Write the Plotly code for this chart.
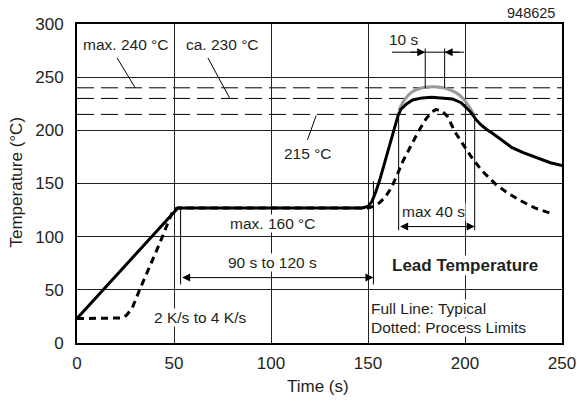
import plotly.graph_objects as go

# ---------------- data ----------------
full_x = [0, 52, 147, 150, 152, 154, 156, 158, 160, 162, 164, 165.5, 167, 170, 173, 178, 183, 188, 193.5, 198, 200.5, 202.5, 204, 205.5, 208, 211, 214, 219, 224, 230, 237, 244, 250]
full_y = [23, 127, 127, 128.5, 133, 142, 153, 166, 180, 193, 206, 214, 220, 225, 228.5, 230.5, 231, 230.5, 229.5, 226, 222, 218, 214.5, 210.5, 205.5, 201, 197.5, 190.5, 184, 179, 174, 169.5, 167]

dotted_x = [0, 23, 25.5, 28.5, 32.5, 37.7, 42.8, 46.2, 49.7, 52, 150, 153, 156, 159, 162, 165, 168, 172, 176, 180, 183, 185, 188, 191, 195, 200, 204, 209, 216, 222, 229, 236, 245]
dotted_y = [23, 23.5, 26, 33, 51, 72.5, 94.5, 110, 125.5, 127, 127, 128.5, 132, 137.5, 146, 158, 171, 185, 199, 211, 217.5, 219.5, 218.5, 213, 198, 184, 173, 161.5, 149, 141, 133.5, 127, 121.5]

peak_x = [166, 168.7, 173, 178, 183, 189, 195.3, 199, 202, 204.7]
peak_y = [219, 228.5, 236.5, 240, 241, 240, 235.5, 230, 222.5, 214.7]

limit_temps = [240, 230, 215]

x_ticks = [0, 50, 100, 150, 200, 250]
y_ticks = [0, 50, 100, 150, 200, 250, 300]

x_title = "Time (s)"
y_title = "Temperature (°C)"

FONT = "Arial, Liberation Sans, Helvetica, sans-serif"
INK = "#231f20"

W, H = 577, 404
ML, MR, MT, MB = 77, 15, 24, 61
PW, PH = W - ML - MR, H - MT - MB

def px_to_paper(px, py):
    return (px - ML) / PW, 1 - (py - MT) / PH

fig = go.Figure()

fig.add_trace(go.Scatter(x=dotted_x, y=dotted_y, mode="lines",
                         line=dict(color="black", width=3, dash="7px,5px"),
                         hoverinfo="skip", showlegend=False))
fig.add_trace(go.Scatter(x=peak_x, y=peak_y, mode="lines", line_shape="spline",
                         line=dict(color="#9a9a9a", width=3),
                         hoverinfo="skip", showlegend=False))
fig.add_trace(go.Scatter(x=full_x, y=full_y, mode="lines",
                         line=dict(color="black", width=3),
                         hoverinfo="skip", showlegend=False))

# limit lines
for t in limit_temps:
    fig.add_shape(type="line", xref="x", yref="y", x0=0, x1=250, y0=t, y1=t,
                  line=dict(color="black", width=1, dash="17px,7px"), layer="below")

thin = dict(color="black", width=1)
def seg(x0, y0, x1, y1):
    fig.add_shape(type="line", xref="x", yref="y", x0=x0, y0=y0, x1=x1, y1=y1, line=thin)

# leader lines
seg(20.7, 268, 30, 240)
seg(67.5, 268, 78.8, 230)
seg(123.3, 214, 118.8, 191)
# helper verticals
seg(53.4, 127, 53.4, 55)
seg(152.8, 152, 152.8, 55)
seg(165.8, 216, 165.8, 106)
seg(205, 212, 205, 106)
seg(179.5, 277, 179.5, 239.5)
seg(189.5, 277, 189.5, 240)
seg(162.4, 273.5, 199.5, 273.5)

def darrow(x0, x1, y, both=True):
    fig.add_annotation(x=x1, y=y, ax=x0, ay=y, xref="x", yref="y", axref="x", ayref="y",
                       text="", showarrow=True, arrowhead=2, startarrowhead=2,
                       arrowside="end+start" if both else "end",
                       arrowsize=1.6, arrowwidth=1, arrowcolor="black")

darrow(53.4, 152.8, 61.5)
darrow(165.8, 205, 109.5)
darrow(171, 179.5, 273.5, both=False)
darrow(198, 189.5, 273.5, both=False)

def label(x, y, text, size=15.5, bg=None, bold=False, xanchor="center", align="center"):
    fig.add_annotation(x=x, y=y, xref="x", yref="y", text=f"<b>{text}</b>" if bold else text,
                       showarrow=False, font=dict(family=FONT, size=size, color=INK),
                       bgcolor=bg, borderpad=0, xanchor=xanchor, align=align)

label(24.8, 281, "max. 240 °C")
label(74.9, 281, "ca. 230 °C")
label(119, 178, "215 °C")
label(101, 112, "max. 160 °C", bg="white")
label(101, 75.6, "90 s to 120 s", bg="white")
label(63.5, 24, "2 K/s to 4 K/s", bg="white")
label(184, 124, "max 40 s", bg="white")
label(168.5, 285, "10 s")
label(200, 72.5, "Lead Temperature", size=17, bg="white", bold=True)
label(150.8, 32, "Full Line: Typical", bg="white", xanchor="left", align="left")
label(150.8, 15, "Dotted: Process Limits", bg="white", xanchor="left", align="left")

# id label and axis titles placed in paper space
ix, iy = px_to_paper(557, 13)
fig.add_annotation(x=ix, y=iy, xref="paper", yref="paper", text="948625", showarrow=False,
                   xanchor="right", yanchor="middle", font=dict(family=FONT, size=14.5, color=INK))
tx, ty = px_to_paper(318, 386)
fig.add_annotation(x=tx, y=ty, xref="paper", yref="paper", text=x_title, showarrow=False,
                   xanchor="center", yanchor="middle", font=dict(family=FONT, size=17, color=INK))
yx, yy = px_to_paper(16.5, 182)
fig.add_annotation(x=yx, y=yy, xref="paper", yref="paper", text=y_title, showarrow=False,
                   textangle=-90, xanchor="center", yanchor="middle",
                   font=dict(family=FONT, size=17, color=INK))

axis_common = dict(showgrid=True, gridcolor="#222", gridwidth=1, showline=True, linewidth=2,
                   linecolor="black", mirror=True, ticks="", zeroline=False,
                   automargin=False, ticklabeloverflow="allow",
                   tickfont=dict(family=FONT, size=17, color=INK))

fig.update_layout(
    width=W, height=H, margin=dict(l=ML, r=MR, t=MT, b=MB, autoexpand=False),
    paper_bgcolor="white", plot_bgcolor="white",
    font=dict(family=FONT, color=INK),
    xaxis=dict(range=[0, 250], tickvals=x_ticks, ticklabelstandoff=4, **axis_common),
    yaxis=dict(range=[0, 300], tickvals=y_ticks, ticklabelstandoff=8, **axis_common),
)

fig.write_html("out.html")
